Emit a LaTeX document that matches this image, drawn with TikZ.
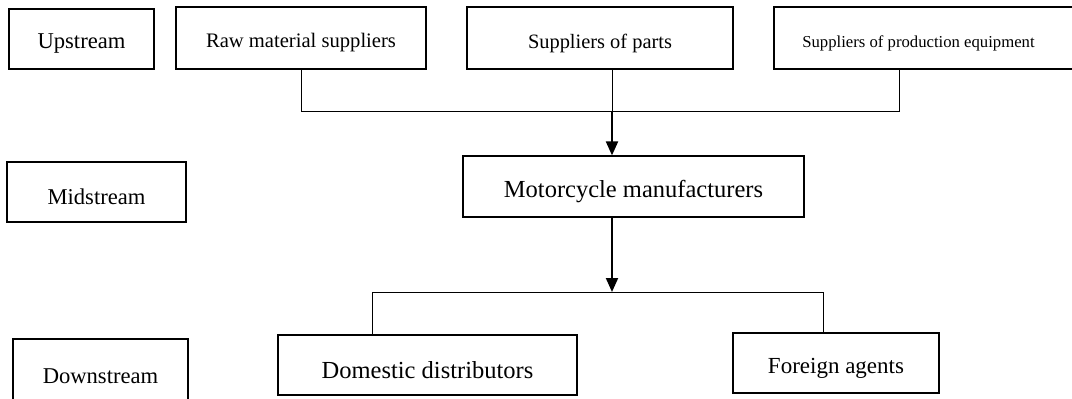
\documentclass[tikz,border=0pt]{standalone}
\usepackage{fontspec}
\setmainfont{Liberation Serif}
\usetikzlibrary{arrows.meta}
\newcommand\lowertxt[1]{\raisebox{-5pt}[\height][\depth]{#1}}
\tikzset{
  box/.style={draw, line width=1.2pt, inner sep=0pt, align=center},
  conn/.style={line width=1pt},
  flow/.style={line width=2pt, -{Triangle[length=14pt,width=12pt]}}
}
\begin{document}
\begin{tikzpicture}[x=1pt,y=-1pt]
\useasboundingbox (0,0) rectangle (1072,399);
\clip (0,0) rectangle (1072,399);
% boxes (centre, width, height in px)
\node[box, minimum width=145pt, minimum height=60pt, font=\fontsize{22.6}{26}\selectfont] (up) at (81.5,39) {\lowertxt{Upstream}};
\node[box, minimum width=250pt, minimum height=62pt, font=\fontsize{20.6}{24}\selectfont] (raw) at (301,38) {\lowertxt{Raw material suppliers}};
\node[box, minimum width=266pt, minimum height=62pt, font=\fontsize{20.4}{24}\selectfont] (parts) at (600,38) {\lowertxt{Suppliers of parts}};
\node[box, minimum width=302pt, minimum height=62pt, font=\fontsize{16.7}{20}\selectfont] (equip) at (925,38) {\lowertxt{\hspace*{-13pt}Suppliers of production equipment}};
\node[box, minimum width=179pt, minimum height=60pt, font=\fontsize{22.6}{26}\selectfont] (mid) at (96.5,192) {\lowertxt{Midstream}};
\node[box, minimum width=341pt, minimum height=61pt, font=\fontsize{24.5}{28}\selectfont] (moto) at (633.5,186.5) {\lowertxt{Motorcycle manufacturers}};
\node[box, minimum width=175pt, minimum height=64pt, font=\fontsize{22.6}{26}\selectfont] (down) at (100.5,371) {\lowertxt{Downstream}};
\node[box, minimum width=299pt, minimum height=60pt, font=\fontsize{24.5}{28}\selectfont] (dom) at (427.5,365) {\lowertxt{Domestic distributors}};
\node[box, minimum width=206pt, minimum height=60pt, font=\fontsize{23}{27}\selectfont] (for) at (836,363) {\lowertxt{Foreign agents}};
% junctions
\coordinate (j1) at (612,111);
\coordinate (jl) at (301,111);
\coordinate (jr) at (899,111);
\coordinate (k1) at (612,292);
\coordinate (kl) at (372,292);
\coordinate (kr) at (823,292);
% upper connectors
\draw[conn] (raw.south) -- (jl) -- (jr) -- (jr |- equip.south);
\draw[conn] (parts.south -| j1) -- (j1);
\draw[flow] (j1) -- (moto.north -| j1);
% lower connectors
\draw[flow] (moto.south -| k1) -- (k1);
\draw[conn] (kl |- dom.north) -- (kl) -- (kr) -- (kr |- for.north);
\end{tikzpicture}
\end{document}
